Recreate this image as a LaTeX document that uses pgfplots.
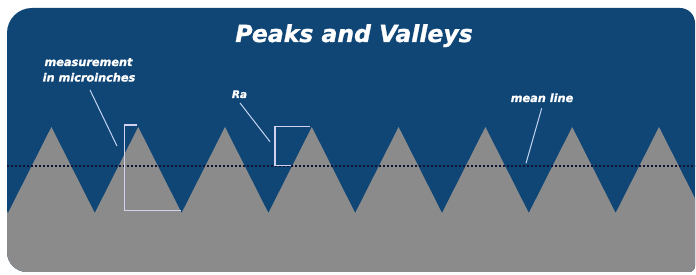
\documentclass[border=0pt]{standalone}
\usepackage{pgfplots}
\pgfplotsset{compat=1.18}
\usepackage{fontspec}
\setmainfont{DejaVu Sans}
\newfontfamily\heavyfont[FakeBold=1.2]{DejaVu Sans}
\definecolor{cardblue}{RGB}{15,70,118}
\definecolor{surfgray}{RGB}{139,139,139}
\definecolor{dotnavy}{RGB}{12,20,50}
\definecolor{boxline}{RGB}{210,210,240}
\definecolor{pointer}{RGB}{195,212,240}
\begin{document}
\begin{tikzpicture}[x=1pt,y=1pt]
\useasboundingbox (0,0) rectangle (696,275);
\begin{scope}
\clip (7,23) -- (7,242) arc[start angle=180,end angle=90,radius=25] -- (680,267) arc[start angle=90,end angle=0,radius=15] -- (695,9) arc[start angle=0,end angle=-90,radius=6] -- (27,3) arc[start angle=270,end angle=180,radius=20] -- cycle;
\fill[cardblue] (0,0) rectangle (696,275);
\begin{axis}[at={(0,0)}, anchor=south west, scale only axis,
  width=696pt, height=275pt, xmin=0, xmax=696, ymin=0, ymax=275,
  y dir=reverse, hide axis, clip=false]
% surface profile (peaks and valleys)
\addplot[fill=surfgray, draw=none] coordinates {
 (-35.4,127) (8,213) (51.4,127) (94.8,213) (138.2,127) (181.6,213)
 (225,127) (268.4,213) (311.8,127) (355.2,213) (398.6,127) (442,213)
 (485.4,127) (528.8,213) (572.2,127) (615.6,213) (659,127) (702.4,213)
 (702.4,290) (-35.4,290)};
% mean line
\addplot[dotnavy, line width=2pt, dash pattern=on 2pt off 2pt] coordinates {(7,166) (696,166)};
% measurement box
\draw[boxline, line width=1.5pt] (136.7,125) -- (124.3,125) -- (124.3,210.5) -- (180.7,210.5);
% Ra box
\draw[boxline, line width=1.5pt] (290.7,165.5) -- (275,165.5) -- (275,126.7) -- (310,126.7);
% pointers
\draw[pointer, line width=1pt] (90,90) -- (117,146);
\draw[pointer, line width=1pt] (240,103) -- (270,141.7);
\draw[pointer, line width=1pt] (541.7,108.3) -- (526,163.3);
% texts
\node[white, font=\heavyfont\fontsize{23.5}{28}\selectfont\bfseries\itshape, anchor=base, inner sep=0pt] at (354,42) {Peaks and Valleys};
\node[white, font=\heavyfont\fontsize{11.3}{13}\selectfont\bfseries\itshape, anchor=base, inner sep=0pt] at (88.5,66) {measurement};
\node[white, font=\heavyfont\fontsize{11.3}{13}\selectfont\bfseries\itshape, anchor=base, inner sep=0pt] at (89,81.5) {in microinches};
\node[white, font=\heavyfont\fontsize{10.5}{13}\selectfont\bfseries\itshape, anchor=base, inner sep=0pt] at (239.5,98) {Ra};
\node[white, font=\heavyfont\fontsize{11.3}{13}\selectfont\bfseries\itshape, anchor=base, inner sep=0pt] at (542,102) {mean line};
\end{axis}
\end{scope}
\end{tikzpicture}
\end{document}
